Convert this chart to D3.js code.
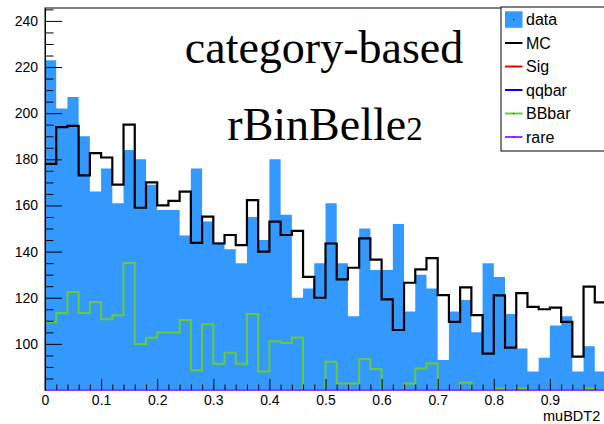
<!DOCTYPE html>
<html>
<head>
<meta charset="utf-8">
<script src="https://cdn.jsdelivr.net/npm/d3@7"></script>
<style>
  body { margin: 0; background: #fff; }
  svg { display: block; }
</style>
</head>
<body>
<svg id="chart" width="604" height="424"></svg>
<script>
// Histogram binning: 50 bins over muBDT2 in [0, 1]
const xMin = 0, xMax = 1, nBins = 50;
const yMin = 80, yMax = 245.6;

// Per-bin contents
const dataCounts = [223, 202, 207, 190, 166, 176, 161, 184, 180, 169,
                    158, 158, 147, 176, 153, 144, 141, 135, 155, 145,
                    180, 156, 120, 124, 135, 161, 135, 112, 150, 132,
                    132, 152, 114, 130, 124, 93, 114, 119, 105, 135,
                    129, 113, 98, 88, 94, 108, 112, 88, 99, 88];
const mcCounts = [178, 194, 194.5, 173, 182.7, 180.8, 169, 195, 159, 170,
                  160, 162, 166, 143.8, 155.2, 143.5, 147.2, 142.8, 162.3, 140,
                  153, 147.2, 149, 129, 120, 143.5, 128, 133, 145.7, 136.5,
                  119.3, 106, 126.5, 132.3, 137.2, 121.1, 109.5, 124.5, 112.5, 95.8,
                  121, 98.4, 122, 116, 115, 115.7, 109.5, 94.5, 124.8, 118];
const sigCounts = [0.2, 0.3, 0.2, 0.4, 0.3, 0.5, 0.4, 0.6, 0.5, 0.7,
                   0.6, 0.8, 0.7, 0.9, 0.8, 1.0, 0.9, 1.1, 1.2, 1.0,
                   1.3, 1.2, 1.4, 1.5, 1.3, 1.6, 1.7, 1.5, 1.8, 1.9,
                   2.0, 1.8, 2.1, 2.2, 2.0, 2.3, 2.4, 2.2, 2.5, 2.6,
                   2.4, 2.7, 2.8, 2.6, 2.9, 3.0, 2.8, 3.1, 3.2, 3.0];
const qqbarCounts = [62, 71, 66, 58, 63, 66, 55, 57, 56, 64,
                     52, 55, 53, 52, 44, 50, 49, 50, 47, 50,
                     49, 45, 44, 52, 45, 49, 43, 48, 50, 46,
                     47, 35, 42, 41, 44, 45, 38, 40, 39, 31,
                     42, 33, 41, 45, 46, 40, 37, 33, 43, 44];
const bbbarCounts = [109.5, 113.4, 122.5, 113.4, 118.2, 110.7, 112.4, 135.1, 99.9, 102.7,
                     104.9, 104.9, 110.3, 88.6, 108.5, 91.4, 96.2, 91.4, 112.9, 88,
                     101.1, 100.4, 102.8, 76, 74, 92.2, 82.8, 82.8, 93.4, 89.1,
                     72, 70, 82.8, 89.3, 91.5, 75, 71, 83.3, 73, 69,
                     80.6, 72, 80.6, 70, 68, 74, 71, 66, 80.6, 73];
const rareCounts = [3.1, 2.8, 3.4, 2.9, 3.0, 2.6, 2.7, 3.2, 2.5, 2.4,
                    2.6, 2.3, 2.2, 2.5, 2.1, 2.4, 2.0, 2.2, 1.9, 2.1,
                    1.8, 2.0, 1.7, 1.9, 1.6, 1.8, 1.5, 1.7, 1.6, 1.4,
                    1.5, 1.3, 1.4, 1.2, 1.3, 1.1, 1.2, 1.0, 1.1, 0.9,
                    1.0, 0.9, 0.8, 1.0, 0.7, 0.8, 0.6, 0.7, 0.5, 0.6];

// Axis ticks and labels
const yMajorTicks = [100, 120, 140, 160, 180, 200, 220, 240];
const yTickLabels = ["100", "120", "140", "160", "180", "200", "220", "240"];
const xMajorTicks = [0, 0.1, 0.2, 0.3, 0.4, 0.5, 0.6, 0.7, 0.8, 0.9];
const xTickLabels = ["0", "0.1", "0.2", "0.3", "0.4", "0.5", "0.6", "0.7", "0.8", "0.9"];
const xTitle = "muBDT2";
const titleLines = ["category-based", "rBinBelle"];
const titleSuffix = "2";

// Legend entries
const legendLabels = ["data", "MC", "Sig", "qqbar", "BBbar", "rare"];
const legendColors = ["#3399ff", "#000000", "#ff0000", "#0000ff", "#66cc33", "#9933ff"];

// ---- drawing ----
const svg = d3.select("#chart");
const frame = { left: 45, right: 606, top: 8, bottom: 390 };

const x = d3.scaleLinear().domain([xMin, xMax]).range([frame.left, frame.right]);
const y = d3.scaleLinear().domain([yMin, yMax]).range([frame.bottom, frame.top]).clamp(true);

const binWidth = (xMax - xMin) / nBins;
const edges = d3.range(nBins + 1).map(i => xMin + i * binWidth);
const stepPoints = vals => vals.map((v, i) => [edges[i], v]).concat([[edges[nBins], vals[nBins - 1]]]);

svg.append("rect").attr("width", 604).attr("height", 424).attr("fill", "#fff");

svg.append("defs").append("clipPath").attr("id", "plotClip")
  .append("rect")
  .attr("x", frame.left).attr("y", frame.top)
  .attr("width", frame.right - frame.left)
  .attr("height", frame.bottom - frame.top + 1.5);

// frame (drawn underneath the histograms so the bottom lines stay on top)
svg.append("rect")
  .attr("x", frame.left).attr("y", frame.top)
  .attr("width", frame.right - frame.left)
  .attr("height", frame.bottom - frame.top)
  .attr("fill", "none").attr("stroke", "#000").attr("stroke-width", 1);

const plot = svg.append("g").attr("clip-path", "url(#plotClip)");

// data histogram (filled)
const area = d3.area()
  .x(d => x(d[0]))
  .y0(frame.bottom)
  .y1(d => y(d[1]))
  .curve(d3.curveStepAfter);
plot.append("path")
  .datum(stepPoints(dataCounts))
  .attr("d", area)
  .attr("fill", legendColors[0]);

// line histograms
const line = d3.line()
  .x(d => x(d[0]))
  .y(d => y(d[1]))
  .curve(d3.curveStepAfter);
const lineSeries = [
  { vals: mcCounts, color: legendColors[1], w: 2.2 },
  { vals: sigCounts, color: legendColors[2], w: 2 },
  { vals: qqbarCounts, color: legendColors[3], w: 2 },
  { vals: bbbarCounts, color: legendColors[4], w: 2 },
  { vals: rareCounts, color: legendColors[5], w: 2 }
];
lineSeries.forEach(s => {
  plot.append("path")
    .datum(stepPoints(s.vals))
    .attr("d", line)
    .attr("fill", "none")
    .attr("stroke", s.color)
    .attr("stroke-width", s.w);
});

// y axis
const yMinor = d3.range(80, 246, 5).filter(v => v % 20 !== 0);
const yAxisMajor = d3.axisLeft(y)
  .tickValues(yMajorTicks)
  .tickFormat((d, i) => yTickLabels[i])
  .tickSize(-17).tickSizeOuter(0).tickPadding(7);
const yAxisMinor = d3.axisLeft(y).tickValues(yMinor).tickFormat("").tickSize(-8.5).tickSizeOuter(0);
[yAxisMinor, yAxisMajor].forEach(ax => {
  const g = svg.append("g").attr("transform", `translate(${frame.left},0)`).call(ax);
  g.select(".domain").attr("stroke", "#000");
  g.selectAll(".tick line").attr("stroke", "#000").attr("stroke-width", 1);
  g.selectAll("text").attr("font-family", "Liberation Sans, Arial, sans-serif").attr("font-size", 14).attr("fill", "#000");
});

// x axis
const xMinor = d3.range(0, 51).map(i => i * 0.02).filter(v => Math.abs(v * 10 - Math.round(v * 10)) > 1e-6);
const xAxisMajor = d3.axisBottom(x)
  .tickValues(xMajorTicks)
  .tickFormat((d, i) => xTickLabels[i])
  .tickSize(-11).tickSizeOuter(0).tickPadding(5);
const xAxisMinor = d3.axisBottom(x).tickValues(xMinor).tickFormat("").tickSize(-5.5).tickSizeOuter(0);
[xAxisMinor, xAxisMajor].forEach(ax => {
  const g = svg.append("g").attr("transform", `translate(0,${frame.bottom})`).call(ax);
  g.select(".domain").remove();
  g.selectAll(".tick line").attr("stroke", "#000").attr("stroke-width", 1);
  g.selectAll("text").attr("font-family", "Liberation Sans, Arial, sans-serif").attr("font-size", 14).attr("fill", "#000");
});

svg.append("text")
  .attr("x", 543).attr("y", 420.5)
  .attr("font-family", "Liberation Sans, Arial, sans-serif")
  .attr("font-size", 14.5)
  .text(xTitle);

// headline text
const serif = "Liberation Serif, Times New Roman, serif";
svg.append("text")
  .attr("x", 324).attr("y", 63)
  .attr("text-anchor", "middle")
  .attr("font-family", serif).attr("font-size", 46)
  .text(titleLines[0]);
const t2 = svg.append("text")
  .attr("x", 325).attr("y", 140)
  .attr("text-anchor", "middle")
  .attr("font-family", serif).attr("font-size", 46);
t2.append("tspan").text(titleLines[1]);
t2.append("tspan").attr("font-size", 33).text(titleSuffix);

// legend
const lg = svg.append("g");
lg.append("rect")
  .attr("x", 501).attr("y", 7)
  .attr("width", 110).attr("height", 144)
  .attr("fill", "#fff").attr("stroke", "#000").attr("stroke-width", 1);
legendLabels.forEach((lab, i) => {
  const cy = 19.5 + i * 23.5;
  if (i === 0) {
    lg.append("rect").attr("x", 505).attr("y", cy - 8.2).attr("width", 17.5).attr("height", 16.5)
      .attr("fill", legendColors[0]);
  } else {
    lg.append("line").attr("x1", 505).attr("x2", 522.5).attr("y1", cy).attr("y2", cy)
      .attr("stroke", legendColors[i]).attr("stroke-width", 2);
  }
  lg.append("rect").attr("x", 513.3).attr("y", cy - 0.5).attr("width", 1).attr("height", 1).attr("fill", "#000");
  lg.append("text")
    .attr("x", 526).attr("y", cy + 5.8)
    .attr("font-family", "Liberation Sans, Arial, sans-serif")
    .attr("font-size", 16)
    .text(lab);
});
</script>
</body>
</html>
